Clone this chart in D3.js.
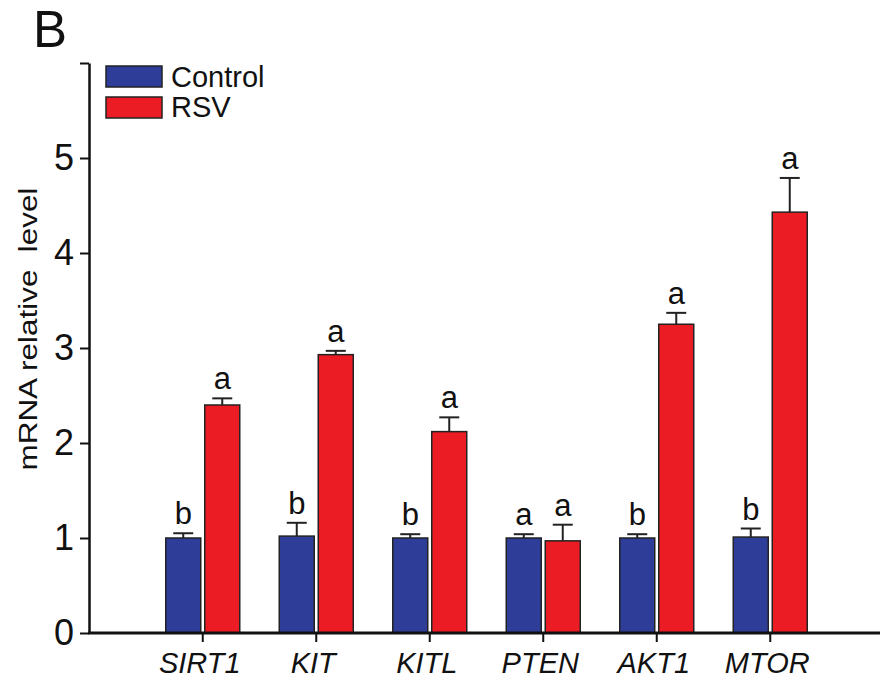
<!DOCTYPE html>
<html><head><meta charset="utf-8">
<script src="https://cdn.jsdelivr.net/npm/d3@7"></script>
<style>body{margin:0;background:#fff}</style>
</head><body>
<svg id="c" width="892" height="686"></svg>
<script>
const genes = ["SIRT1","KIT","KITL","PTEN","AKT1","MTOR"];
const seriesNames = ["Control","RSV"];
const controlVals = [1.00,1.02,1.00,1.00,1.00,1.01];
const controlErr  = [0.05,0.14,0.04,0.04,0.04,0.09];
const rsvVals     = [2.40,2.93,2.12,0.97,3.25,4.43];
const rsvErr      = [0.07,0.04,0.15,0.17,0.12,0.36];
const controlLetters = ["b","b","b","a","b","b"];
const rsvLetters     = ["a","a","a","a","a","a"];
const yTicks = [0,1,2,3,4,5,6];
const colors = ["#2E3D98","#EC1C24"];
const FONT = "Liberation Sans, Arial, sans-serif";

const svg = d3.select("#c");
const x0 = 89, x1 = 880, yTop = 63, yBot = 633;
const y = d3.scaleLinear().domain([0,6]).range([yBot,yTop]);
const x = d3.scaleBand().domain(genes).range([146,827]).paddingInner(0).paddingOuter(0);
const barW = 35, gap = 4;

const data = [];
genes.forEach((g,i)=>{
  data.push({g,s:0,v:controlVals[i],e:controlErr[i],l:controlLetters[i]});
  data.push({g,s:1,v:rsvVals[i],e:rsvErr[i],l:rsvLetters[i]});
});
const cx = d => x(d.g)+x.bandwidth()/2;
const bx = d => d.s===0 ? cx(d)-gap/2-barW : cx(d)+gap/2;

// error bars
const eb = svg.append("g").attr("stroke","#222").attr("stroke-width",2);
data.forEach(d=>{
  const mx = bx(d)+barW/2;
  eb.append("line").attr("x1",mx).attr("x2",mx).attr("y1",y(d.v)).attr("y2",y(d.v+d.e));
  eb.append("line").attr("x1",mx-10).attr("x2",mx+10).attr("y1",y(d.v+d.e)).attr("y2",y(d.v+d.e));
});
// bars
svg.append("g").selectAll("rect").data(data).join("rect")
  .attr("x",bx).attr("width",barW)
  .attr("y",d=>y(d.v)).attr("height",d=>y(0)-y(d.v))
  .attr("fill",d=>colors[d.s]).attr("stroke","#222").attr("stroke-width",1.5);
// letters
svg.append("g").selectAll("text").data(data).join("text")
  .attr("x",d=>bx(d)+barW/2).attr("y",d=>y(d.v+d.e)-9)
  .attr("text-anchor","middle").attr("font-family",FONT)
  .attr("font-size",31).attr("fill","#111").text(d=>d.l);

// y axis
const ya = svg.append("g").attr("transform",`translate(${x0},0)`)
  .call(d3.axisLeft(y).tickValues(yTicks).tickSize(9).tickSizeOuter(0)
    .tickFormat(d=>d===6?"":d3.format("d")(d)));
ya.select(".domain").attr("stroke","#111").attr("stroke-width",2.5);
ya.selectAll(".tick line").attr("stroke","#111").attr("stroke-width",2);
ya.selectAll(".tick text").attr("font-family",FONT)
  .attr("font-size",36).attr("fill","#111").attr("dx","-3");

// x axis
svg.append("line").attr("x1",x0-1).attr("x2",x1).attr("y1",yBot).attr("y2",yBot)
  .attr("stroke","#111").attr("stroke-width",3);
const xa = svg.append("g").attr("transform",`translate(0,${yBot})`)
  .call(d3.axisBottom(x).tickSize(9).tickSizeOuter(0));
xa.select(".domain").remove();
xa.selectAll(".tick line").attr("stroke","#111").attr("stroke-width",2);
xa.selectAll(".tick text").attr("font-family",FONT)
  .attr("font-size",29).attr("font-style","italic").attr("fill","#111")
  .attr("dy",null).attr("y",40).attr("dx","-3");

// y label
svg.append("text").attr("transform","translate(37,329) rotate(-90)")
  .attr("text-anchor","middle").attr("font-family",FONT)
  .attr("font-size",26).attr("fill","#111").attr("xml:space","preserve")
  .attr("textLength",283).attr("lengthAdjust","spacingAndGlyphs")
  .text("mRNA relative  level");

// panel letter
svg.append("text").attr("x",33).attr("y",47).attr("font-family",FONT)
  .attr("font-size",51).attr("fill","#111").text("B");

// legend
const lg = svg.append("g");
seriesNames.forEach((n,i)=>{
  lg.append("rect").attr("x",106).attr("y",66+i*31).attr("width",56).attr("height",21)
    .attr("fill",colors[i]).attr("stroke","#222").attr("stroke-width",1.5);
  lg.append("text").attr("x",171).attr("y",87+i*30).attr("font-family",FONT)
    .attr("font-size",29).attr("fill","#111").text(n);
});
</script>
</body></html>
